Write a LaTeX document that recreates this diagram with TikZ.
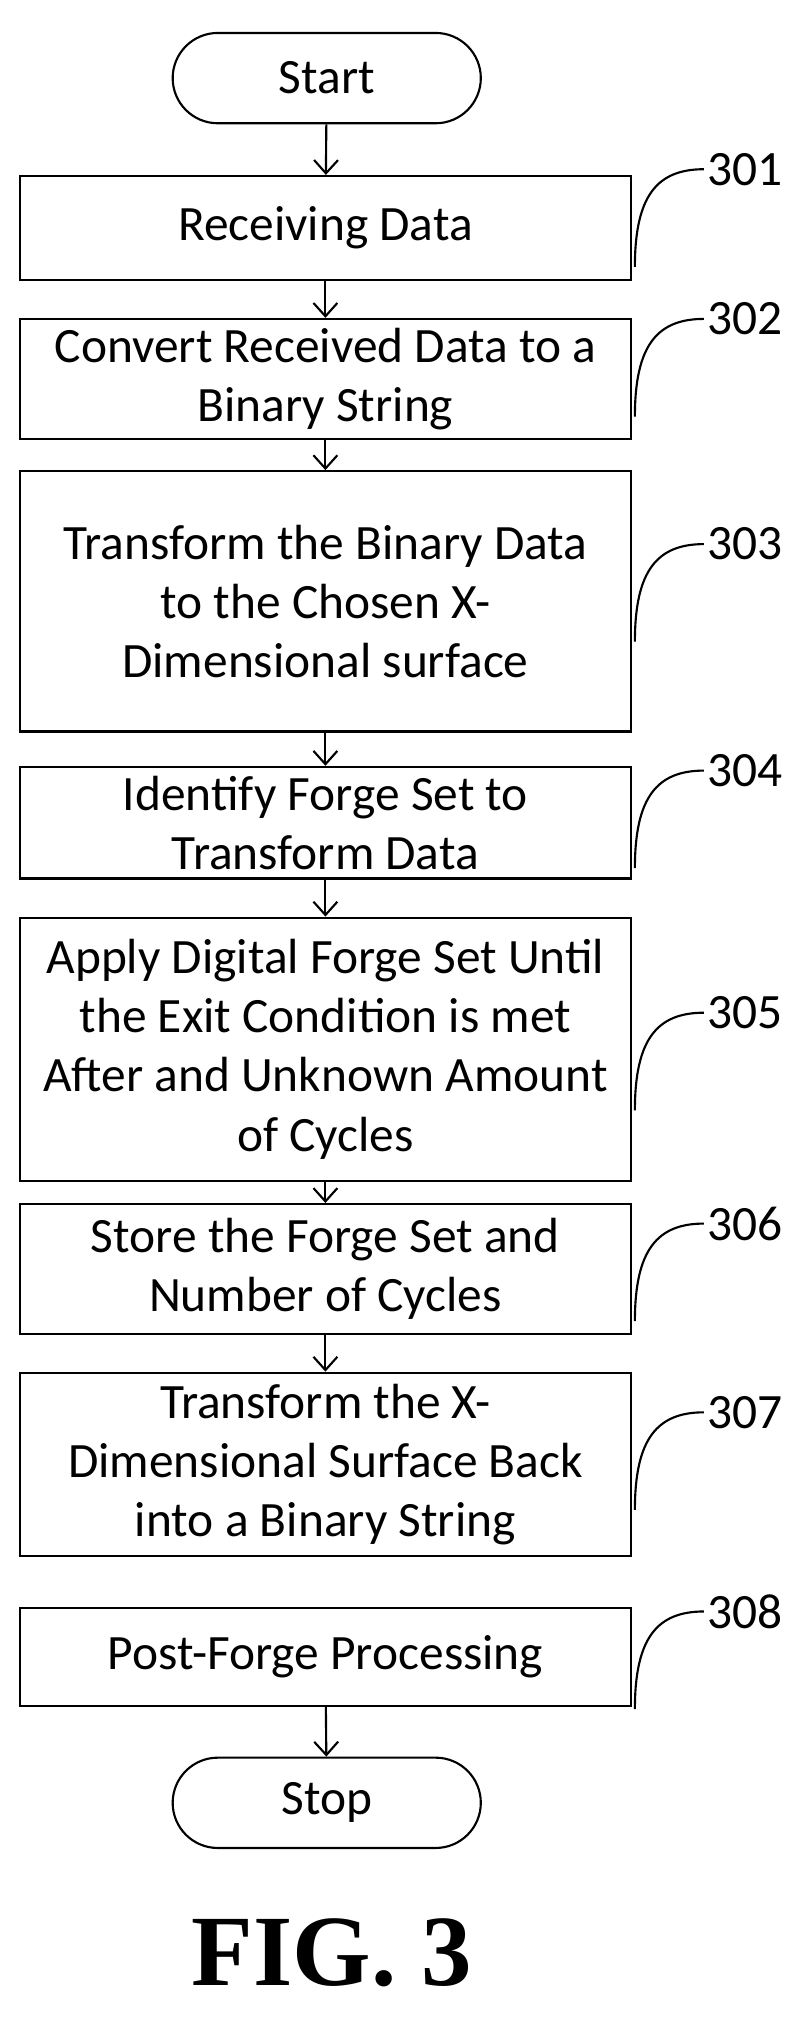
\documentclass[tikz,border=0pt]{standalone}
\usepackage{fontspec}
\setmainfont{Carlito}
\usetikzlibrary{arrows.meta}
\begin{document}
\begin{tikzpicture}[x=0.5pt,y=-0.49pt,
  box/.style={draw,line width=0.8pt,minimum width=230pt,align=center,font=\fontsize{18.6}{22.3}\selectfont},
  term/.style={draw,line width=0.8pt,rounded corners=17pt,minimum width=116pt,minimum height=34pt,font=\fontsize{18.6}{22}\selectfont},
  arr/.style={-{Straight Barb[length=5pt,width=9pt]},line width=0.8pt},
  lbl/.style={font=\fontsize{18.6}{22}\selectfont,anchor=west,inner sep=1pt},
  crv/.style={line width=0.8pt}]
\useasboundingbox (0,0) rectangle (600,1568);
\node[term] (start) at (246,60) {Start};
\node[box,minimum height=39pt] (b1) at (245,175) {Receiving Data};
\node[box,minimum height=40pt] (b2) at (245,291) {Convert Received Data to a\\Binary String};
\node[box,minimum height=98pt] (b3) at (245,462) {Transform the Binary Data\\to the Chosen X-\\Dimensional surface};
\node[box,minimum height=39pt] (b4) at (245,632) {Identify Forge Set to\\Transform Data};
\node[box,minimum height=99pt] (b5) at (245,806) {Apply Digital Forge Set Until\\the Exit Condition is met\\After and Unknown Amount\\of Cycles};
\node[box,minimum height=49pt] (b6) at (245,975) {Store the Forge Set and\\Number of Cycles};
\node[box,minimum height=69pt] (b7) at (245,1125) {Transform the X-\\Dimensional Surface Back\\into a Binary String};
\node[box,minimum height=37pt] (b8) at (245,1273) {Post-Forge Processing};
\node[term] (stop) at (246,1385) {Stop};
\draw[arr] (start) -- (b1);
\draw[arr] (b1) -- (b2);
\draw[arr] (b2) -- (b3);
\draw[arr] (b3) -- (b4);
\draw[arr] (b4) -- (b5);
\draw[arr] (b5) -- (b6);
\draw[arr] (b6) -- (b7);
\draw[arr] (b8) -- (stop);
\foreach \n/\y/\t in {1/130/301,2/245/302,3/418/303,4/592/304,5/778/305,6/940/306,7/1085/307,8/1238/308}{
  \node[lbl] (l\n) at (530,\y) {\t};
  \draw[crv] (478,\y+75) .. controls (478,\y+20) and (495,\y) .. (l\n.west);
}
\node[font=\bfseries\fontspec{Liberation Serif}\fontsize{38}{44}\selectfont] (fig) at (250,1500) {FIG. 3};
\end{tikzpicture}
\end{document}
